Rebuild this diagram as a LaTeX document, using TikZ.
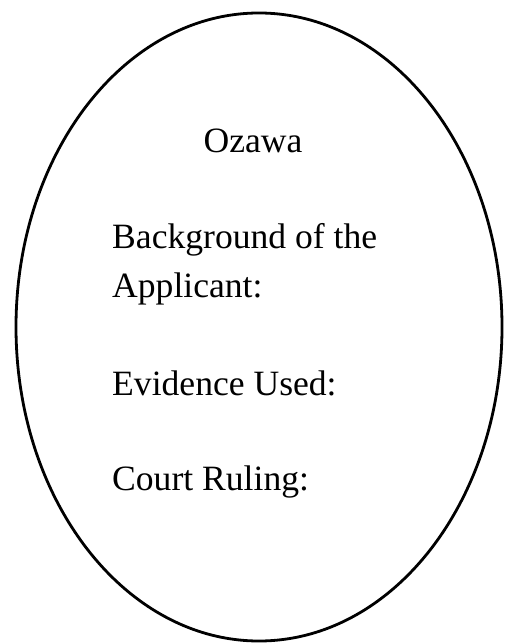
\documentclass[tikz,border=0pt]{standalone}
\usepackage{fontspec}
\setmainfont{Liberation Serif}
\begin{document}
\begin{tikzpicture}[x=1pt,y=-1pt,
  lbl/.style={inner sep=0pt,font=\fontsize{35.6}{42}\selectfont}]
\useasboundingbox (0,0) rectangle (504,644);
\draw[line width=2.8pt] (259,327) ellipse [x radius=243, y radius=314];
\node[lbl,anchor=base] (t) at (253,153) {Ozawa};
\node[lbl,anchor=base west] (b1) at (112,248) {Background of the};
\node[lbl,anchor=base west] (b2) at (112,297) {Applicant:};
\node[lbl,anchor=base west] (e) at (112,395) {Evidence Used:};
\node[lbl,anchor=base west] (c) at (112,490) {Court Ruling:};
\end{tikzpicture}
\end{document}
